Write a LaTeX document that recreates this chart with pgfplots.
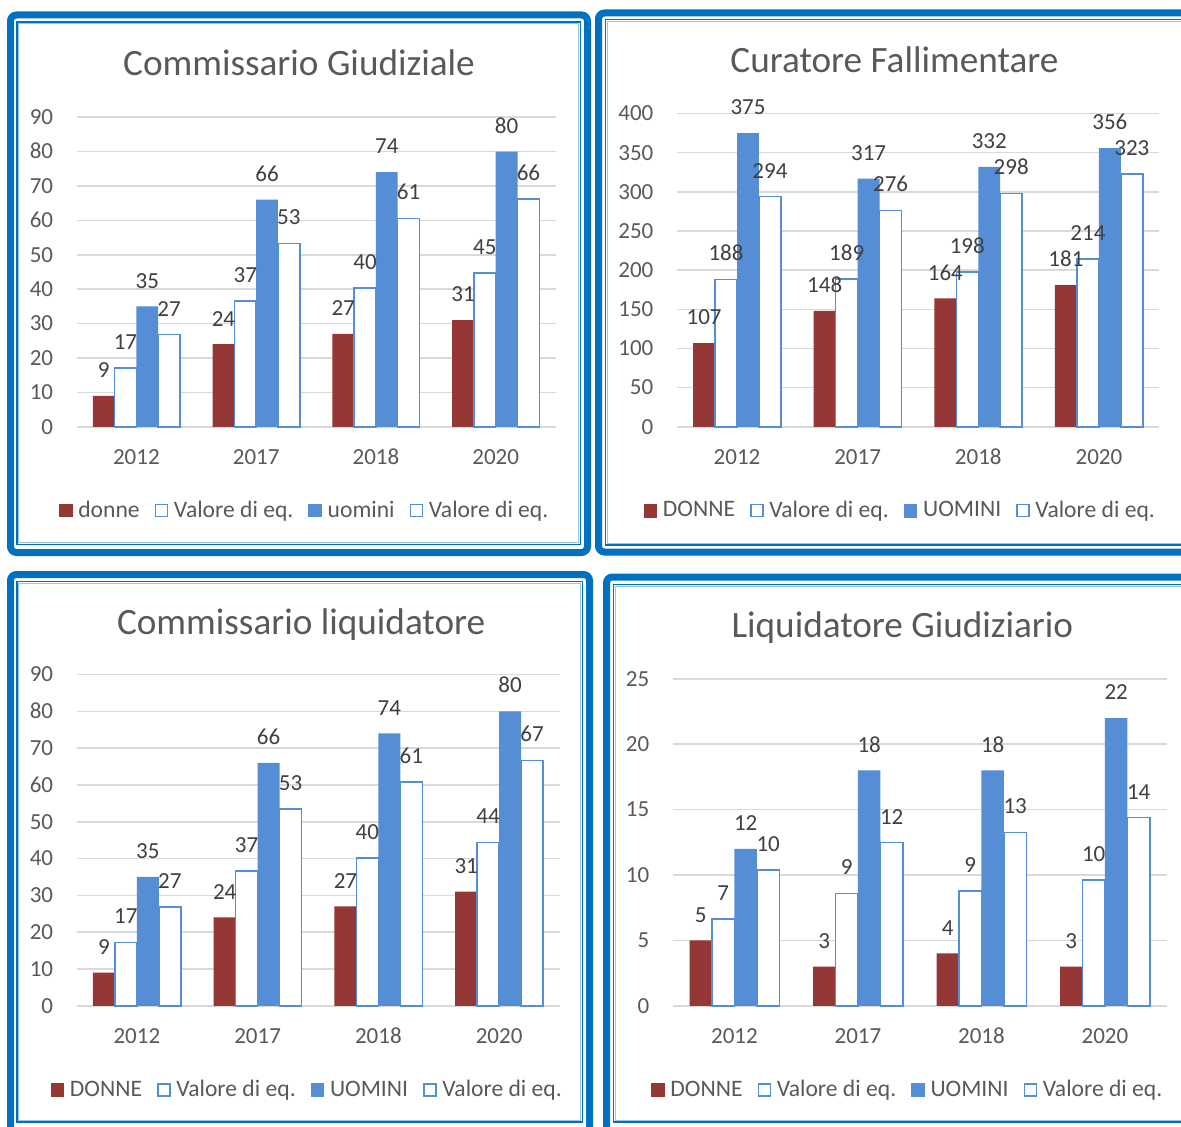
\documentclass[border=0pt]{standalone}
\usepackage{pgfplots}
\pgfplotsset{compat=1.18}
\usepackage{fontspec}
\setmainfont{Carlito}
\definecolor{donne}{HTML}{953735}
\definecolor{uomini}{HTML}{558ED5}
\definecolor{eqline}{HTML}{558ED5}
\definecolor{frameblue}{HTML}{0070C0}
\definecolor{framelight}{HTML}{9DC3E6}
\definecolor{txt}{HTML}{595959}
\definecolor{lbl}{HTML}{404040}
\definecolor{gridc}{HTML}{D9D9D9}
\newcommand{\tickfont}{\fontsize{11.5}{13}\selectfont}
\newcommand{\legfont}{\fontsize{11.8}{13}\selectfont}
\newcommand{\titfont}{\fontsize{18.6}{21}\selectfont}
\pgfplotsset{
  /pgf/number format/assume math mode=true,
  panel/.style={
    scale only axis, anchor=south west, clip=false,
    ybar, bar width=0.182, ymin=0, xmin=-0.5, xmax=3.5,
    xtick={0,1,2,3}, xticklabels={2012,2017,2018,2020},
    axis line style={draw=none}, major tick length=0pt,
    ymajorgrids, grid style={draw=gridc, line width=0.75pt},
    tick label style={font=\tickfont, text=txt},
    yticklabel style={anchor=base east, inner sep=0pt, xshift=-11.5pt, yshift=-3.65pt},
    xticklabel style={anchor=base, inner sep=0pt, yshift=-18.9pt},
    nodes near coords={\pgfmathprintnumber[fixed,precision=0]{\pgfplotspointmeta}},
    every node near coord/.append style={font=\tickfont, text=lbl, inner sep=0pt, yshift=8.9pt},
    title style={font=\titfont, text=txt, anchor=base, yshift=-7pt},
    legend columns=4,
    legend style={draw=none, fill=none, inner sep=0pt, font=\legfont, text=txt,
      anchor=center, nodes={inner sep=0pt},
      /tikz/every odd column/.append style={column sep=2.85pt},
      /tikz/every even column/.append style={column sep=7.5pt}},
  },
  sdonne/.style={fill=donne, draw=none, bar shift=-0.273,
    legend image code/.code={\fill[donne] (0pt,-3.4pt) rectangle (6.8pt,3.4pt);}},
  seq1/.style={fill=white, draw=eqline, line width=0.75pt, bar shift=-0.091,
    legend image code/.code={\draw[eqline, line width=0.75pt, fill=white] (0.375pt,-3.0pt) rectangle (6.4pt,3.0pt);}},
  suomini/.style={fill=uomini, draw=none, bar shift=0.091,
    legend image code/.code={\fill[uomini] (0pt,-3.4pt) rectangle (6.8pt,3.4pt);}},
  seq2/.style={fill=white, draw=eqline, line width=0.75pt, bar shift=0.273,
    legend image code/.code={\draw[eqline, line width=0.75pt, fill=white] (0.375pt,-3.0pt) rectangle (6.4pt,3.0pt);}},
}
\begin{document}
\begin{tikzpicture}
\useasboundingbox (0,0) rectangle (590.5pt,563pt);
\clip (0,0) rectangle (590.5pt,563pt);
\fill[white] (0,0) rectangle (590.5pt,563pt);
% frames (pixel coordinates, y downwards)
\begin{scope}[x=0.5pt, y=-0.5pt, shift={(0pt,563pt)}]
  \draw[frameblue, line width=3.5pt, rounded corners=3pt] (10.5,15) rectangle (587.5,552.5);
  \draw[frameblue, line width=0.8pt] (16.8,21.8) rectangle (580.5,544.5);
  \draw[framelight, line width=0.5pt] (18.8,23.8) rectangle (578.5,542.5);
  \draw[frameblue, line width=3.5pt, rounded corners=3pt] (598.5,13) rectangle (1200,552);
  \draw[frameblue, line width=0.8pt] (605.5,19.5) rectangle (1195,545);
  \draw[framelight, line width=0.5pt] (607.5,21.5) rectangle (1195,543);
  \draw[frameblue, line width=3.5pt, rounded corners=3pt] (10.5,574.5) rectangle (589.5,1140);
  \draw[frameblue, line width=0.8pt] (16.8,581.5) rectangle (582.5,1122);
  \draw[framelight, line width=0.5pt] (18.8,583.5) rectangle (580.5,1120);
  \draw[frameblue, line width=3.5pt, rounded corners=3pt] (606.5,577) rectangle (1200,1140);
  \draw[frameblue, line width=0.8pt] (613.5,584.5) rectangle (1195,1122);
  \draw[framelight, line width=0.5pt] (615.5,586.5) rectangle (1195,1120);
\end{scope}

% Panel 1
\begin{axis}[panel, at={(38.25pt,349.6pt)}, width=239.55pt, height=154.85pt,
  ymax=90, ytick={0,10,...,90},
  title={Commissario Giudiziale}, title style={at={(0.4644,1.1395)}},
  legend style={at={(0.4742,-0.2709)}}]
\addplot[sdonne] coordinates {(0,9) (1,24) (2,27) (3,31)};
\addplot[seq1] coordinates {(0,17.1) (1,36.6) (2,40.3) (3,44.7)};
\addplot[suomini] coordinates {(0,35) (1,66) (2,74) (3,80)};
\addplot[seq2] coordinates {(0,26.8) (1,53.3) (2,60.6) (3,66.2)};
\legend{donne, Valore di eq., uomini, Valore di eq.}
\end{axis}

% Panel 2
\begin{axis}[panel, at={(338.35pt,349.6pt)}, width=241.25pt, height=156.6pt,
  ymax=400, ytick={0,50,...,400},
  title={Curatore Fallimentare}, title style={at={(0.4512,1.138)}},
  legend style={at={(0.4613,-0.2679)}}]
\addplot[sdonne] coordinates {(0,107) (1,148) (2,164) (3,181)};
\addplot[seq1] coordinates {(0,188) (1,189) (2,198) (3,214)};
\addplot[suomini] coordinates {(0,375) (1,317) (2,332) (3,356)};
\addplot[seq2] coordinates {(0,294) (1,276) (2,298) (3,323)};
\legend{DONNE, Valore di eq., UOMINI, Valore di eq.}
\end{axis}

% Panel 3
\begin{axis}[panel, at={(38.25pt,60.1pt)}, width=241.5pt, height=165.65pt,
  ymax=90, ytick={0,10,...,90},
  title={Commissario liquidatore}, title style={at={(0.4652,1.1272)}},
  legend style={at={(0.4756,-0.2538)}}]
\addplot[sdonne] coordinates {(0,9) (1,24) (2,27) (3,31)};
\addplot[seq1] coordinates {(0,17.2) (1,36.6) (2,40.2) (3,44.4)};
\addplot[suomini] coordinates {(0,35) (1,66) (2,74) (3,80)};
\addplot[seq2] coordinates {(0,26.9) (1,53.4) (2,60.8) (3,66.7)};
\legend{DONNE, Valore di eq., UOMINI, Valore di eq.}
\end{axis}

% Panel 4
\begin{axis}[panel, at={(336.35pt,60.1pt)}, width=247pt, height=163.5pt,
  ymax=25, ytick={0,5,...,25},
  title={Liquidatore Giudiziario}, title style={at={(0.465,1.1324)}},
  legend style={at={(0.4737,-0.2572)}}]
\addplot[sdonne] coordinates {(0,5) (1,3) (2,4) (3,3)};
\addplot[seq1] coordinates {(0,6.62) (1,8.59) (2,8.78) (3,9.63)};
\addplot[suomini] coordinates {(0,12) (1,18) (2,18) (3,22)};
\addplot[seq2] coordinates {(0,10.37) (1,12.47) (2,13.24) (3,14.39)};
\legend{DONNE, Valore di eq., UOMINI, Valore di eq.}
\end{axis}
\end{tikzpicture}
\end{document}
